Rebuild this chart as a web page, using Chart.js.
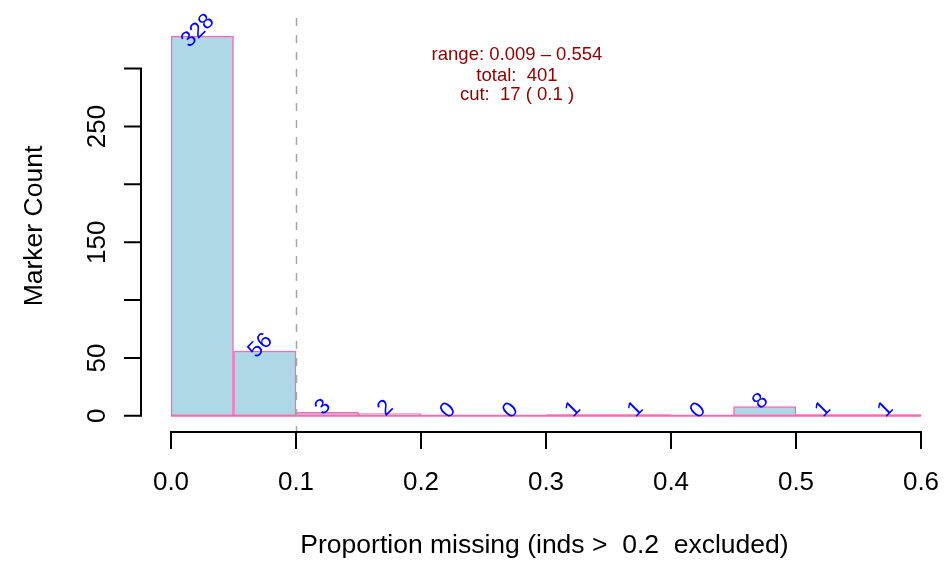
<!DOCTYPE html>
<html>
<head>
<meta charset="utf-8">
<script src="https://cdn.jsdelivr.net/npm/chart.js@4"></script>
<style>
  html, body { margin: 0; padding: 0; background: #ffffff; }
  #wrap { width: 946px; height: 561px; }
</style>
</head>
<body>
<div id="wrap"><canvas id="histCanvas" width="946" height="561"></canvas></div>
<script>
// histogram bins (left edges) and counts
const binStart = [0, 0.05, 0.1, 0.15, 0.2, 0.25, 0.3, 0.35, 0.4, 0.45, 0.5, 0.55]
const binWidth = 0.05
const counts = [328, 56, 3, 2, 0, 0, 1, 1, 0, 8, 1, 1]

const xTicks = [0, 0.1, 0.2, 0.3, 0.4, 0.5, 0.6]
const xTickLabels = ['0.0', '0.1', '0.2', '0.3', '0.4', '0.5', '0.6']
const yTicks = [0, 50, 100, 150, 200, 250, 300]
const yTickLabels = ['0', '50', '', '150', '', '250', '']

const cutoff = 0.1
const infoLines = ['range: 0.009 \u2013 0.554', 'total:  401', 'cut:  17 ( 0.1 )']
const xTitle = 'Proportion missing (inds >  0.2  excluded)'
const yTitle = 'Marker Count'

const fontFam = '"Liberation Sans", Arial, Helvetica, sans-serif'
Chart.defaults.font.family = fontFam

// R-style axes, cut line, count labels and the info text
const rStyle = {
    id: 'rStyle',
    afterDatasetsDraw(chart) {
        const ctx = chart.ctx
        const xs = chart.scales.x
        const ys = chart.scales.y
        const area = chart.chartArea

        // dashed cutoff line
        ctx.save()
        ctx.strokeStyle = '#a6a6a6'
        ctx.lineWidth = 1.5
        ctx.setLineDash([8, 9])
        const cx = Math.round(xs.getPixelForValue(cutoff)) + 0.5
        ctx.beginPath()
        ctx.moveTo(cx, area.top - 3)
        ctx.lineTo(cx, area.bottom)
        ctx.stroke()
        ctx.restore()

        // count labels, rotated 45 degrees
        ctx.save()
        ctx.fillStyle = '#0000ff'
        ctx.font = '22px ' + fontFam
        ctx.textAlign = 'center'
        ctx.textBaseline = 'alphabetic'
        binStart.forEach((s, i) => {
            const px = xs.getPixelForValue(s + binWidth / 2)
            const py = ys.getPixelForValue(counts[i])
            ctx.save()
            ctx.translate(px, py - 1)
            ctx.rotate(-Math.PI / 4)
            ctx.fillText(String(counts[i]), 0, 0)
            ctx.restore()
        })
        ctx.restore()
    },
    afterDraw(chart) {
        const ctx = chart.ctx
        const xs = chart.scales.x
        const ys = chart.scales.y
        const area = chart.chartArea
        const tickLen = 17

        ctx.save()
        ctx.strokeStyle = '#000000'
        ctx.fillStyle = '#000000'
        ctx.lineWidth = 2

        // y axis
        const ax = area.left
        ctx.beginPath()
        ctx.moveTo(ax, ys.getPixelForValue(yTicks[0]))
        ctx.lineTo(ax, ys.getPixelForValue(yTicks[yTicks.length - 1]))
        yTicks.forEach(t => {
            const py = ys.getPixelForValue(t)
            ctx.moveTo(ax + 1, py)
            ctx.lineTo(ax - tickLen, py)
        })
        ctx.stroke()

        ctx.font = '26px ' + fontFam
        ctx.textAlign = 'center'
        ctx.textBaseline = 'alphabetic'
        yTicks.forEach((t, i) => {
            if (!yTickLabels[i]) return
            ctx.save()
            ctx.translate(105, ys.getPixelForValue(t))
            ctx.rotate(-Math.PI / 2)
            ctx.fillText(yTickLabels[i], 0, 0)
            ctx.restore()
        })

        // x axis
        const ay = area.bottom + 1
        ctx.beginPath()
        ctx.moveTo(xs.getPixelForValue(xTicks[0]), ay)
        ctx.lineTo(xs.getPixelForValue(xTicks[xTicks.length - 1]), ay)
        xTicks.forEach(t => {
            const px = xs.getPixelForValue(t)
            ctx.moveTo(px, ay - 1)
            ctx.lineTo(px, ay + tickLen)
        })
        ctx.stroke()
        xTicks.forEach((t, i) => {
            ctx.fillText(xTickLabels[i], xs.getPixelForValue(t), 490)
        })

        // axis titles
        ctx.font = '26.5px ' + fontFam
        ctx.fillText(xTitle, (area.left + area.right) / 2 + 1, 553)
        ctx.save()
        ctx.translate(42, (area.top + area.bottom) / 2)
        ctx.rotate(-Math.PI / 2)
        ctx.fillText(yTitle, 0, 0)
        ctx.restore()

        // info text
        ctx.fillStyle = '#8b0000'
        ctx.font = '18.5px ' + fontFam
        const infoY = [60, 80.5, 99.5]
        infoLines.forEach((line, i) => {
            ctx.fillText(line, 517, infoY[i])
        })
        ctx.restore()
    }
}

const barData = binStart.map((s, i) => ({ x: s + binWidth / 2, y: counts[i] }))
const baseData = [
    { x: binStart[0], y: 0 },
    { x: binStart[binStart.length - 1] + binWidth, y: 0 }
]

const graficoHist = new Chart(document.getElementById('histCanvas'), {
    type: 'bar',
    data: {
        datasets: [{
            type: 'bar',
            label: 'counts',
            data: barData,
            backgroundColor: '#add8e6',
            borderColor: '#ff69b4',
            borderWidth: 1.5,
            borderSkipped: false,
            barPercentage: 1,
            categoryPercentage: 1,
            grouped: false,
            order: 2
        }, {
            type: 'line',
            label: 'base',
            data: baseData,
            borderColor: '#ff69b4',
            borderWidth: 2,
            pointRadius: 0,
            order: 1
        }]
    },
    options: {
        responsive: false,
        animation: false,
        devicePixelRatio: 1,
        layout: {
            padding: { left: 141, right: 0, top: 21, bottom: 130 }
        },
        plugins: {
            legend: { display: false },
            tooltip: { enabled: false }
        },
        scales: {
            x: {
                type: 'linear',
                min: -0.024,
                max: 0.62,
                offset: false,
                display: false
            },
            y: {
                type: 'linear',
                min: -13.12,
                max: 341.12,
                display: false
            }
        }
    },
    plugins: [rStyle]
})
</script>
</body>
</html>
